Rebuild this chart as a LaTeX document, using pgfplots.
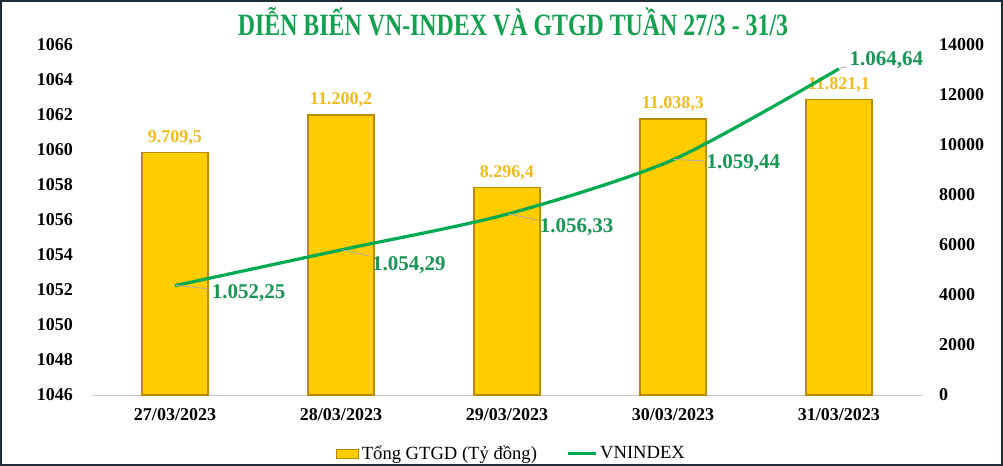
\documentclass[border=0pt]{standalone}
\usepackage{pgfplots}
\pgfplotsset{compat=1.18}
\usepackage{graphicx}
\usepackage{fontspec}
\setmainfont{Liberation Serif}

\definecolor{barfill}{RGB}{255,204,0}
\definecolor{baredge}{RGB}{185,140,0}
\definecolor{barlab}{RGB}{238,188,30}
\definecolor{lineg}{RGB}{0,170,80}
\definecolor{labg}{RGB}{25,150,85}
\definecolor{titleg}{RGB}{20,160,80}
\definecolor{frame}{RGB}{30,45,55}

\pgfplotstableread{
x  gtgd
0  9709.5
1  11200.2
2  8296.4
3  11038.3
4  11821.1
}\bars

\pgfplotstableread{
x  vni      lab       ang    dist
0  1052.25  1.052,25  -13.3  17.5
1  1054.29  1.054,29  -28    16
2  1056.33  1.056,33  -24    16.5
3  1059.44  1.059,44  -6.5   15.5
4  1064.64  1.064,64  45     5.5
}\vnidx

\begin{document}
\begin{tikzpicture}[x=1pt,y=1pt]
\useasboundingbox (0,0) rectangle (501.5,233);
\fill[white] (0,0) rectangle (501.5,233);

\begin{axis}[
    at={(46pt,35.5pt)}, anchor=south west,
    scale only axis, width=415pt, height=175pt,
    xmin=-0.5, xmax=4.5,
    ymin=0, ymax=14000,
    axis x line*=bottom, axis y line*=right,
    x axis line style={gray!45},
    y axis line style={draw=none},
    xtick={0,1,2,3,4},
    xticklabels={27/03/2023,28/03/2023,29/03/2023,30/03/2023,31/03/2023},
    ytick={0,2000,...,14000},
    scaled y ticks=false,
    /pgf/number format/1000 sep={},
    /pgf/number format/assume math mode=true,
    major tick length=0pt,
    tick label style={font=\fontsize{9}{9}\selectfont\bfseries},
    xticklabel style={yshift=-3pt},
    yticklabel style={xshift=5pt},
    clip=false,
]
\addplot[ybar, bar width=33pt, fill=barfill, draw=baredge, line width=0.7pt,
    nodes near coords={\pgfmathprintnumber[assume math mode=true,use comma,1000 sep={.},fixed,fixed zerofill,precision=1]{\pgfplotspointmeta}},
    every node near coord/.append style={text=barlab, font=\fontsize{9}{9}\selectfont\bfseries, yshift=0pt}]
    table[x=x, y=gtgd] {\bars};
\end{axis}

\begin{axis}[
    at={(46pt,35.5pt)}, anchor=south west,
    scale only axis, width=415pt, height=175pt,
    xmin=-0.5, xmax=4.5,
    ymin=1046, ymax=1066,
    axis y line*=left, hide x axis,
    y axis line style={draw=none},
    ytick={1046,1048,...,1066},
    yticklabel={\pgfmathprintnumber[assume math mode=true,1000 sep={}]{\tick}},
    major tick length=0pt,
    tick label style={font=\fontsize{9}{9}\selectfont\bfseries},
    yticklabel style={xshift=-6pt},
    clip=false,
    legend columns=2,
    legend style={at={(0.506,-0.168)}, anchor=center, draw=none, fill=none,
        font=\fontsize{9.3}{9.3}\selectfont, nodes={inner xsep=1.5pt},
        /tikz/every even column/.append style={column sep=13pt}},
]
\addlegendimage{legend image code/.code={\draw[fill=barfill, draw=baredge] (0pt,-2.2pt) rectangle (11pt,2.2pt);}}
\addlegendentry{Tổng GTGD (Tỷ đồng)}
\addplot[lineg, line width=1.6pt, smooth, tension=0.45,
    legend image code/.code={\draw[lineg, line width=1.6pt] (0pt,0pt) -- (14pt,0pt);}]
    table[x=x, y=vni] {\vnidx};
\addlegendentry{VNINDEX}
\addplot[forget plot, draw=none, mark=none,
    point meta=explicit symbolic,
    visualization depends on={\thisrow{ang} \as \pang},
    visualization depends on={\thisrow{dist} \as \pdist},
    nodes near coords={},
    every node near coord/.style={inner sep=0pt, minimum size=0pt,
        pin={[anchor=west, pin distance=\pdist pt, pin edge={gray!65, thin},
              text=labg, font=\fontsize{10.5}{10.5}\selectfont\bfseries, inner sep=1pt]\pang:{\textbf{\pgfplotspointmeta}}}},
    ] table[x=x, y=vni, meta=lab] {\vnidx};
\end{axis}

\node[text=titleg] at (256.5,222) {\scalebox{0.77}[1]{\fontsize{15.5}{15.5}\selectfont\bfseries DIỄN BIẾN VN-INDEX VÀ GTGD TUẦN 27/3 - 31/3}};

\draw[frame, line width=1pt] (0.5,0.5) rectangle (501,232.5);
\end{tikzpicture}
\end{document}
